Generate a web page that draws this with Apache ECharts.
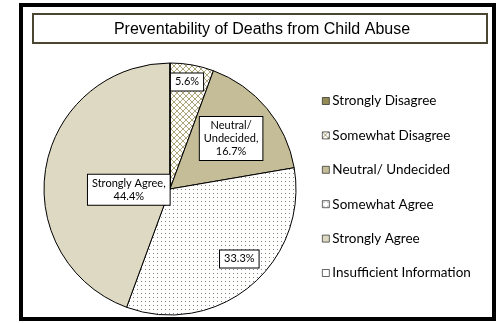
<!DOCTYPE html>
<html><head><meta charset="utf-8">
<script src="https://cdn.jsdelivr.net/npm/echarts@6/dist/echarts.min.js"></script>
<style>html,body{margin:0;padding:0;background:#fff}#c{width:502px;height:323px}</style>
</head><body><div id="c"></div>
<script>
const chartTitle = 'Preventability of Deaths from Child Abuse';
const categories = ['Strongly Disagree','Somewhat Disagree','Neutral/ Undecided','Somewhat Agree','Strongly Agree','Insufficient Information'];
const values = [0, 5.6, 16.7, 33.3, 44.4, 0];
const showNameInLabel = [false, false, true, false, true, false];

// label placement (fractions of the radius, relative to pie centre) - styling only
const labelOffsetFrac = [[0,0],[0.135,-0.85],[0.485,-0.40],[0.55,0.555],[-0.327,0.005],[0,0]];
const CX = 170, CY = 189, R = 126;

function makeCross(){
  const c = document.createElement('canvas'); c.width = 6; c.height = 6;
  const g = c.getContext('2d');
  g.fillStyle = '#fff'; g.fillRect(0,0,6,6);
  g.strokeStyle = '#ada47c'; g.lineWidth = 1;
  g.beginPath(); g.moveTo(0,0); g.lineTo(6,6); g.moveTo(6,0); g.lineTo(0,6); g.stroke();
  return c;
}
function makeDots(){
  const c = document.createElement('canvas'); c.width = 4; c.height = 4;
  const g = c.getContext('2d');
  g.fillStyle = '#fff'; g.fillRect(0,0,4,4);
  g.fillStyle = '#86867a'; g.fillRect(1,1,1,1);
  return c;
}
const fills = [
  '#948a54',
  {image: makeCross(), repeat: 'repeat'},
  '#c4bd97',
  {image: makeDots(), repeat: 'repeat'},
  '#ddd9c3',
  '#ffffff'
];

const chart = echarts.init(document.getElementById('c'), null, {renderer:'canvas'});
chart.setOption({
  animation: false,
  backgroundColor: '#fff',
  title: {
    text: chartTitle, left: 257, top: 17, textAlign: 'center',
    textStyle: {fontFamily: 'Liberation Sans', fontSize: 16, fontWeight: 'normal', color: '#000'}
  },
  graphic: [
    {type:'rect', shape:{x:21, y:5, width:473, height:314}, style:{fill:'none', stroke:'#000', lineWidth:4}, z:-1},
    {type:'rect', shape:{x:33, y:14, width:454, height:29}, style:{fill:'none', stroke:'#4b4631', lineWidth:2}, z:-1}
  ],
  legend: {
    orient: 'vertical', left: 322, top: 94, padding: 0,
    itemWidth: 7, itemHeight: 7, itemGap: 20.4,
    icon: 'rect',
    data: categories,
    itemStyle: {borderWidth: 0.7, borderColor: '#222'},
    textStyle: {fontFamily: 'Lato', fontSize: 13.5, color: '#000', lineHeight: 14, padding:[0,0,0,-2]}
  },
  series: [{
    type: 'pie',
    center: [CX, CY], radius: R,
    startAngle: 90, clockwise: true,
    minAngle: 0, avoidLabelOverlap: false,
    itemStyle: {borderColor: '#000', borderWidth: 1},
    label: {
      show: true, position: 'inside',
      fontFamily: 'Lato', fontSize: 11, lineHeight: 13, color: '#000',
      backgroundColor: '#fff', borderColor: '#000', borderWidth: 1, padding: [2,4],
      formatter: p => {
        const i = p.dataIndex;
        if (!values[i]) return '';
        const v = values[i].toFixed(1) + '%';
        if (!showNameInLabel[i]) return v;
        return categories[i].replace('/ ', '/\n') + ',\n' + v;
      }
    },
    labelLayout: params => {
      const o = labelOffsetFrac[params.dataIndex];
      return {x: CX + o[0]*R, y: CY + o[1]*R};
    },
    emphasis: {disabled: true},
    data: categories.map((n,i)=>({name:n, value:values[i], itemStyle:{color: fills[i]}, label:{show: values[i] > 0}}))
  }]
});
</script>
</body></html>
